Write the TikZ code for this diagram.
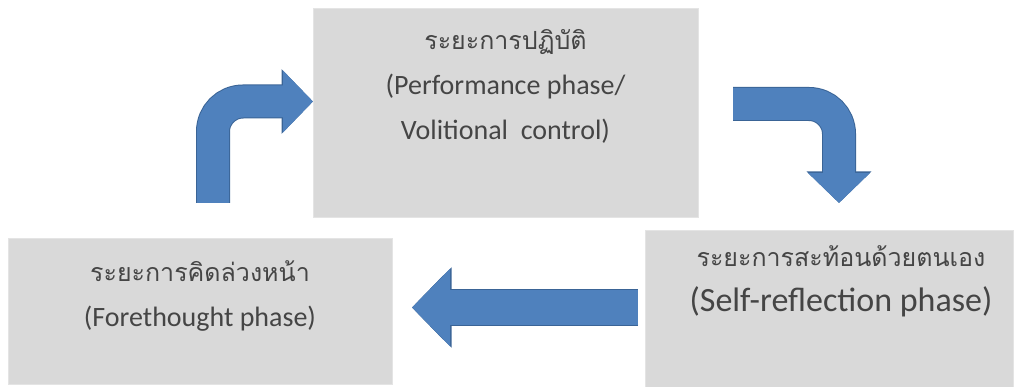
\documentclass[tikz,border=0pt]{standalone}
\usepackage{fontspec}
\setmainfont{Carlito}
\newfontfamily\thaifont[Script=Thai]{Loma}
\usetikzlibrary{positioning,arrows.meta}

\definecolor{boxgray}{HTML}{D9D9D9}
\definecolor{arrowblue}{HTML}{4F81BD}
\definecolor{arrowedge}{HTML}{3A6496}
\definecolor{textgray}{HTML}{454545}

\newcommand{\thailine}[1]{{\thaifont\fontsize{25}{45}\selectfont #1}}

\tikzset{
  phase/.style={rectangle, fill=boxgray, draw=boxgray!70!white, inner sep=0pt},
  phasetext/.style={align=center, text=textgray, inner sep=0pt,
    font=\fontsize{28}{45}\selectfont},
  flow/.style={draw=arrowblue, line width=32pt, rounded corners=30pt,
    -{Triangle[length=30pt,width=60pt]},
    preaction={draw=arrowedge, line width=34pt,
      -{Triangle[length=31.5pt,width=63pt]}}}
}

\begin{document}
\begin{tikzpicture}[x=1pt, y=-1pt]
  \useasboundingbox (0,0) rectangle (1016,387);
  % the three phases
  \node[phase, minimum width=385pt, minimum height=209pt] (perf) at (505.5,112.5) {};
  \node[phase, minimum width=384pt, minimum height=146pt] (fore) at (200,311) {};
  \node[phase, minimum width=368pt, minimum height=160pt] (self) at (829,310) {};
  \node[phasetext, below=21pt of perf.north] (perftext)
    {\thailine{ระยะการปฏิบัติ}\\(Performance phase/\\Volitional\ \ control)};
  \node[phasetext, below=23pt of fore.north] (foretext)
    {\thailine{ระยะการคิดล่วงหน้า}\\(Forethought phase)};
  \node[phasetext, below=16pt of self.north, xshift=12pt,
    font=\fontsize{34}{45}\selectfont] (selftext)
    {\thailine{ระยะการสะท้อนด้วยตนเอง}\\(Self-reflection phase)};
  % block arrows
  \coordinate (up) at (213,203);
  \coordinate (upend) at (313,101.5);
  \coordinate (down) at (733,104);
  \coordinate (downend) at (839,203);
  \coordinate (back) at (638,307.5);
  \coordinate (backend) at (412,307.5);
  \draw[flow] (up) |- (upend);
  \draw[flow] (down) -| (downend);
  \draw[flow, line width=35pt, -{Triangle[length=38pt,width=75pt]},
    preaction={draw=arrowedge, line width=37pt, -{Triangle[length=39.5pt,width=78pt]}}]
    (back) -- (backend);
\end{tikzpicture}
\end{document}
